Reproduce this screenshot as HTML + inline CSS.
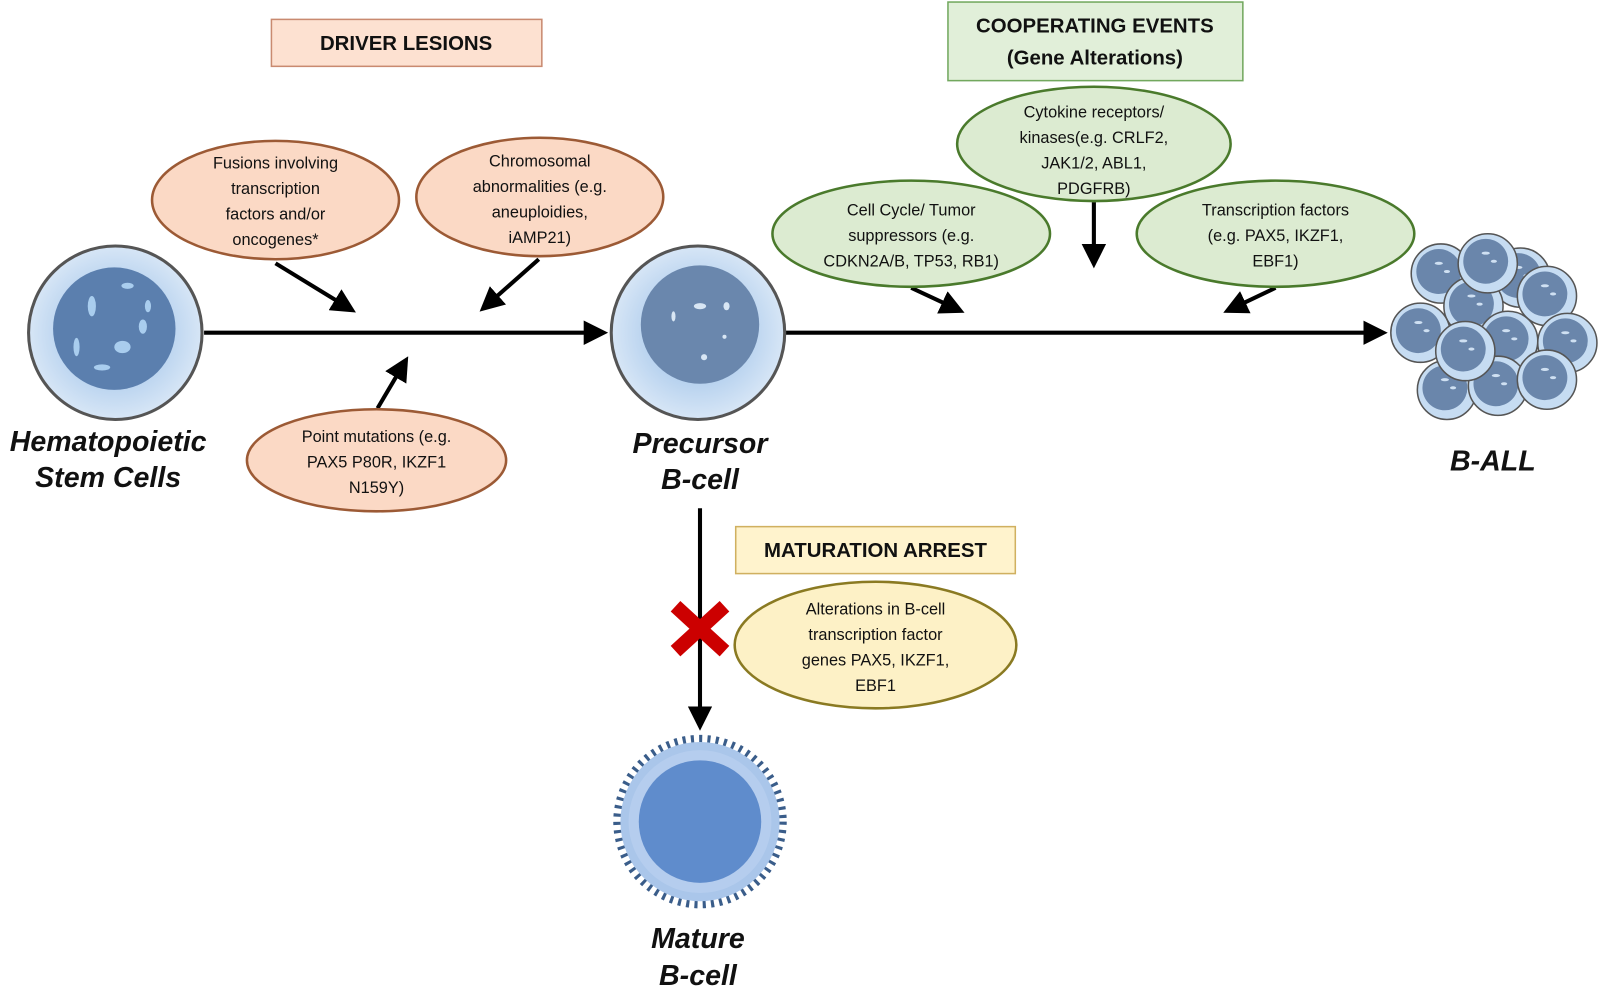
<!DOCTYPE html>
<html><head><meta charset="utf-8"><style>
html,body{margin:0;padding:0;background:#fff;}
svg{display:block;}
text{font-family:"Liberation Sans",sans-serif;}
.e{font-size:16px;fill:#111;text-anchor:middle;}
.b{font-size:20px;font-weight:bold;fill:#111;text-anchor:middle;}
.l{font-size:28px;font-weight:bold;font-style:italic;fill:#111;text-anchor:middle;}
</style></head><body>
<svg width="1600" height="990" viewBox="0 0 1568 970" preserveAspectRatio="none" xmlns="http://www.w3.org/2000/svg">
<defs>
<marker id="ah" markerWidth="6" markerHeight="6" refX="4" refY="3" orient="auto" markerUnits="strokeWidth"><path d="M0,0 L6,3 L0,6 z" fill="#000"/></marker>
<radialGradient id="cyt" cx="50%" cy="50%" r="50%"><stop offset="60%" stop-color="#b9d3ef"/><stop offset="100%" stop-color="#d7e6f6"/></radialGradient>
<g id="mini"><circle r="29" fill="#c6dcf2" stroke="#555" stroke-width="1.5"/><circle cx="-2" cy="-2" r="22" fill="#6a86ab"/><ellipse cx="-2" cy="-10" rx="4" ry="1.5" fill="#cfe0f2"/><ellipse cx="6" cy="-2" rx="3" ry="1.5" fill="#cfe0f2"/></g>
</defs>
<rect x="266" y="19" width="265" height="46" fill="#fde1d1" stroke="#c98a70" stroke-width="1.5"/>
<text class="b" x="398" y="49">DRIVER LESIONS</text>
<rect x="929" y="2" width="289" height="77" fill="#e1efd9" stroke="#72a85e" stroke-width="1.5"/>
<text class="b" x="1073" y="32">COOPERATING EVENTS</text>
<text class="b" x="1073" y="63">(Gene Alterations)</text>
<rect x="721" y="516" width="274" height="46" fill="#fff3cd" stroke="#d0b060" stroke-width="1.5"/>
<text class="b" x="858" y="546">MATURATION ARREST</text>
<g stroke="#000" stroke-width="4" fill="none">
<line x1="200" y1="326" x2="588" y2="326" marker-end="url(#ah)"/>
<line x1="770" y1="326" x2="1352" y2="326" marker-end="url(#ah)"/>
<line x1="686" y1="498" x2="686" y2="708" marker-end="url(#ah)"/>
<line x1="270" y1="258" x2="342" y2="302" marker-end="url(#ah)"/>
<line x1="528" y1="254" x2="476" y2="300" marker-end="url(#ah)"/>
<line x1="370" y1="400" x2="396" y2="356" marker-end="url(#ah)"/>
<line x1="893" y1="282" x2="938" y2="303" marker-end="url(#ah)"/>
<line x1="1072" y1="198" x2="1072" y2="255" marker-end="url(#ah)"/>
<line x1="1250" y1="282" x2="1206" y2="303" marker-end="url(#ah)"/>
</g>
<g stroke="#cc0000" stroke-width="14"><line x1="662" y1="594" x2="710" y2="638"/><line x1="710" y1="594" x2="662" y2="638"/></g>
<g stroke="#9c5a35" stroke-width="2.5" fill="#fbd9c5">
<ellipse cx="270" cy="196" rx="121" ry="58"/>
<ellipse cx="529" cy="193" rx="121" ry="58"/>
<ellipse cx="369" cy="451" rx="127" ry="50"/>
</g>
<g stroke="#4a7a2c" stroke-width="2.5" fill="#dcebd1">
<ellipse cx="1072" cy="141" rx="134" ry="56"/>
<ellipse cx="893" cy="229" rx="136" ry="52"/>
<ellipse cx="1250" cy="229" rx="136" ry="52"/>
</g>
<ellipse cx="858" cy="632" rx="138" ry="62" fill="#fdf1c6" stroke="#8a7a22" stroke-width="2.5"/>
<text class="e" x="270" y="165">Fusions involving</text><text class="e" x="270" y="190">transcription</text><text class="e" x="270" y="215">factors and/or</text><text class="e" x="270" y="240">oncogenes*</text>
<text class="e" x="529" y="163">Chromosomal</text><text class="e" x="529" y="188">abnormalities (e.g.</text><text class="e" x="529" y="213">aneuploidies,</text><text class="e" x="529" y="238">iAMP21)</text>
<text class="e" x="369" y="433">Point mutations (e.g.</text><text class="e" x="369" y="458">PAX5 P80R, IKZF1</text><text class="e" x="369" y="483">N159Y)</text>
<text class="e" x="1072" y="115">Cytokine receptors/</text><text class="e" x="1072" y="140">kinases(e.g. CRLF2,</text><text class="e" x="1072" y="165">JAK1/2, ABL1,</text><text class="e" x="1072" y="190">PDGFRB)</text>
<text class="e" x="893" y="211">Cell Cycle/ Tumor</text><text class="e" x="893" y="236">suppressors (e.g.</text><text class="e" x="893" y="261">CDKN2A/B, TP53, RB1)</text>
<text class="e" x="1250" y="211">Transcription factors</text><text class="e" x="1250" y="236">(e.g. PAX5, IKZF1,</text><text class="e" x="1250" y="261">EBF1)</text>
<text class="e" x="858" y="602">Alterations in B-cell</text><text class="e" x="858" y="627">transcription factor</text><text class="e" x="858" y="652">genes PAX5, IKZF1,</text><text class="e" x="858" y="677">EBF1</text>
<ellipse cx="113" cy="326" rx="85" ry="85" fill="url(#cyt)" stroke="#555" stroke-width="3"/>
<circle cx="112" cy="322" r="60" fill="#5b7fae"/>
<g fill="#a9cdee"><ellipse cx="90" cy="300" rx="4" ry="10"/><ellipse cx="125" cy="280" rx="6" ry="3"/><ellipse cx="120" cy="340" rx="8" ry="6"/><ellipse cx="75" cy="340" rx="3" ry="9"/><ellipse cx="140" cy="320" rx="4" ry="7"/><ellipse cx="100" cy="360" rx="8" ry="3"/><ellipse cx="145" cy="300" rx="3" ry="6"/></g>
<ellipse cx="684" cy="326" rx="85" ry="85" fill="url(#cyt)" stroke="#555" stroke-width="3"/>
<circle cx="686" cy="318" r="58" fill="#6a87ad"/>
<g fill="#d8e6f4"><ellipse cx="686" cy="300" rx="6" ry="3"/><ellipse cx="660" cy="310" rx="2" ry="5"/><ellipse cx="712" cy="300" rx="3" ry="4"/><ellipse cx="690" cy="350" rx="3" ry="3"/><ellipse cx="710" cy="330" rx="2" ry="2"/></g>
<circle cx="686" cy="805" r="80" fill="none" stroke="#3a5d8a" stroke-width="10" stroke-dasharray="3 5"/>
<circle cx="686" cy="805" r="78" fill="#aac6ea"/>
<circle cx="686" cy="805" r="70" fill="#b5cdee"/>
<circle cx="686" cy="805" r="60" fill="#5f8ccc"/>
<use href="#mini" x="1412" y="268"/>
<use href="#mini" x="1490" y="272"/>
<use href="#mini" x="1444" y="300"/>
<use href="#mini" x="1516" y="290"/>
<use href="#mini" x="1392" y="326"/>
<use href="#mini" x="1478" y="334"/>
<use href="#mini" x="1536" y="336"/>
<use href="#mini" x="1458" y="258"/>
<use href="#mini" x="1418" y="382"/>
<use href="#mini" x="1468" y="378"/>
<use href="#mini" x="1516" y="372"/>
<use href="#mini" x="1436" y="344"/>
<text class="l" x="106" y="442">Hematopoietic</text><text class="l" x="106" y="477">Stem Cells</text>
<text class="l" x="686" y="444">Precursor</text><text class="l" x="686" y="479">B-cell</text>
<text class="l" x="1463" y="461">B-ALL</text>
<text class="l" x="684" y="929">Mature</text><text class="l" x="684" y="965">B-cell</text>
</svg>
</body></html>
